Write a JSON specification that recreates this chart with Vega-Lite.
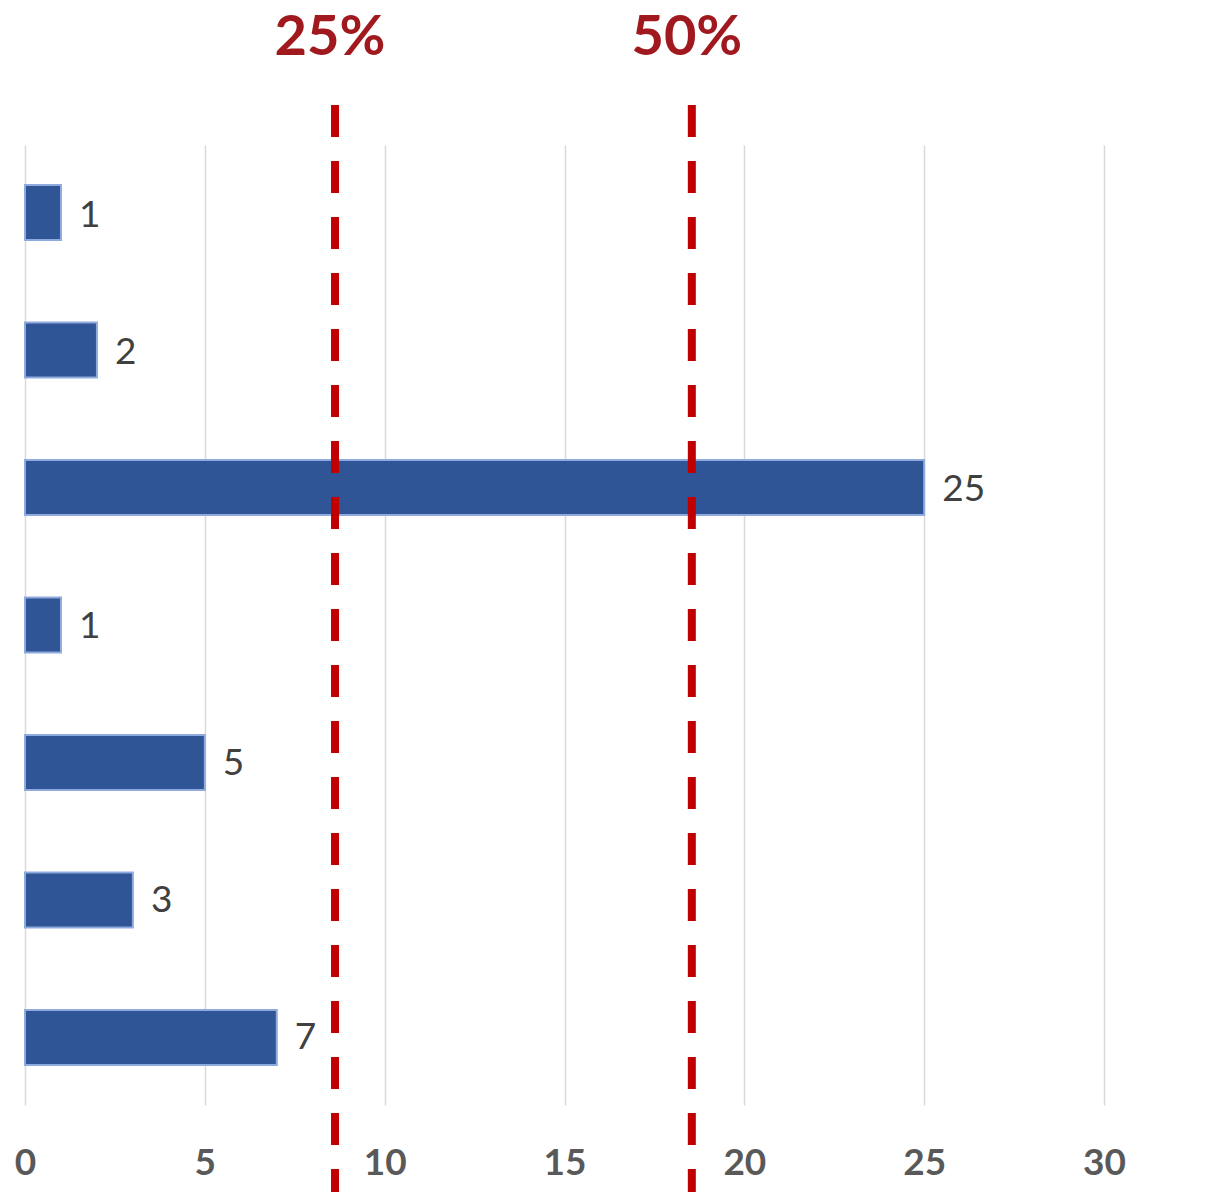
{
  "$schema": "https://vega.github.io/schema/vega-lite/v6.json",
  "autosize": "none",
  "width": 1079,
  "height": 960,
  "padding": {"left": 25, "top": 145, "right": 113, "bottom": 87},
  "background": "white",
  "config": {"view": {"stroke": null}, "font": "Lato"},
  "datasets": {
    "bars": [
      {"cat": "A", "value": 1},
      {"cat": "B", "value": 2},
      {"cat": "C", "value": 25},
      {"cat": "D", "value": 1},
      {"cat": "E", "value": 5},
      {"cat": "F", "value": 3},
      {"cat": "G", "value": 7}
    ],
    "refs": [
      {"label": "25%", "x": 8.62},
      {"label": "50%", "x": 18.54}
    ]
  },
  "resolve": {"scale": {"y": "independent"}},
  "layer": [
    {
      "data": {"name": "bars"},
      "mark": {"type": "bar", "fill": "#2F5597", "stroke": "#8FAADC", "strokeWidth": 2},
      "encoding": {
        "y": {"field": "cat", "type": "nominal", "sort": null, "axis": null,
              "scale": {"paddingInner": 0.6, "paddingOuter": 0.29}},
        "x": {"field": "value", "type": "quantitative",
              "scale": {"domain": [0, 30], "nice": false},
              "axis": {"values": [0, 5, 10, 15, 20, 25, 30], "title": null, "domain": false, "ticks": false,
                       "grid": true, "gridColor": "#D9D9D9", "gridWidth": 1.5,
                       "labelFont": "Lato", "labelFontSize": 37, "labelFontWeight": "bold", "labelColor": "#595959",
                       "labelPadding": 40, "labelFlush": false}}
      }
    },
    {
      "data": {"name": "bars"},
      "mark": {"type": "text", "align": "left", "baseline": "middle", "dx": 18, "dy": 2, "fontSize": 37, "color": "#404040", "font": "Lato"},
      "encoding": {
        "y": {"field": "cat", "type": "nominal", "sort": null, "axis": null,
              "scale": {"paddingInner": 0.6, "paddingOuter": 0.29}},
        "x": {"field": "value", "type": "quantitative"},
        "text": {"field": "value", "type": "quantitative"}
      }
    },
    {
      "data": {"name": "refs"},
      "mark": {"type": "rule", "color": "#C00000", "strokeWidth": 8, "strokeDash": [32, 24]},
      "encoding": {
        "x": {"field": "x", "type": "quantitative"},
        "y": {"datum": 1.0417, "type": "quantitative", "scale": {"domain": [0, 1], "nice": false, "zero": false}, "axis": null},
        "y2": {"datum": -0.0906}
      }
    },
    {
      "data": {"name": "refs"},
      "mark": {"type": "text", "align": "center", "baseline": "middle", "dx": -5, "fontSize": 56, "fontWeight": "bold", "color": "#A0191E", "font": "Lato"},
      "encoding": {
        "x": {"field": "x", "type": "quantitative"},
        "y": {"datum": 1.111, "type": "quantitative", "scale": {"domain": [0, 1], "nice": false, "zero": false}, "axis": null},
        "text": {"field": "label", "type": "nominal"}
      }
    }
  ]
}
